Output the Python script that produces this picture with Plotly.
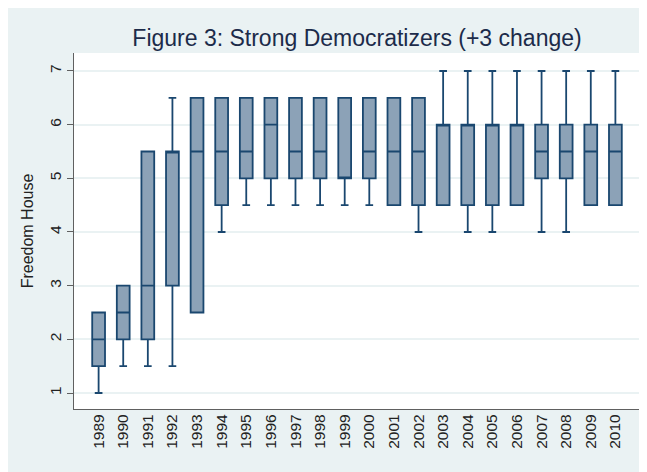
import plotly.graph_objects as go

years = [str(y) for y in range(1989, 2011)]
lower = [1, 1.5, 1.5, 1.5, 2.5, 4, 4.5, 4.5, 4.5, 4.5, 4.5, 4.5, 4.5, 4, 4.5, 4, 4, 4.5, 4, 4, 4.5, 4.5]
q1 = [1.5, 2, 2, 3, 2.5, 4.5, 5, 5, 5, 5, 5, 5, 4.5, 4.5, 4.5, 4.5, 4.5, 4.5, 5, 5, 4.5, 4.5]
median = [2, 2.5, 3, 5.5, 5.5, 5.5, 5.5, 6, 5.5, 5.5, 5, 5.5, 5.5, 5.5, 6, 6, 6, 6, 5.5, 5.5, 5.5, 5.5]
q3 = [2.5, 3, 5.5, 5.5, 6.5, 6.5, 6.5, 6.5, 6.5, 6.5, 6.5, 6.5, 6.5, 6.5, 6, 6, 6, 6, 6, 6, 6, 6]
upper = [2.5, 3, 5.5, 6.5, 6.5, 6.5, 6.5, 6.5, 6.5, 6.5, 6.5, 6.5, 6.5, 6.5, 7, 7, 7, 7, 7, 7, 7, 7]
yticks = [1, 2, 3, 4, 5, 6, 7]

pos = list(range(len(years)))

BG = "#EAF2F3"
NAVY = "#1A476F"
FILL = "#8CA2B7"
FONT = "Liberation Sans, Arial, Helvetica, sans-serif"

fig = go.Figure()
fig.add_trace(go.Box(
    x=pos, q1=q1, median=median, q3=q3,
    lowerfence=lower, upperfence=upper,
    fillcolor=FILL,
    line=dict(color=NAVY, width=1.8),
    width=0.52, whiskerwidth=0.6,
    boxpoints=False, showlegend=False, hoverinfo="skip",
))

W, H = 639, 464
L, R, T, B = 66, 7, 45, 63
pw = W - L - R

fig.update_layout(
    width=W, height=H, autosize=False,
    margin=dict(l=L, r=R, t=T, b=B, pad=0),
    paper_bgcolor=BG, plot_bgcolor="white",
    font=dict(family=FONT, size=15.5, color="#222222"),
    title=dict(
        text="Figure 3: Strong Democratizers (+3 change)",
        font=dict(size=23, color="#1C2B4A", family=FONT),
        x=(L + pw / 2) / W, xanchor="center",
        y=1 - 30 / H, yanchor="middle",
    ),
    xaxis=dict(
        range=[-1, len(years)], tickmode="array", tickvals=pos, ticktext=years,
        tickangle=-90, showgrid=False, zeroline=False,
        showline=True, linecolor="#606060", linewidth=1.2,
        ticks="", ticklabelstandoff=-2, tickfont=dict(size=15.5, color="#222222"),
    ),
    yaxis=dict(
        range=[0.702, 7.335], tickmode="array", tickvals=yticks,
        tickangle=-90, showgrid=True, gridcolor=BG, gridwidth=1.5,
        zeroline=False, showline=True, linecolor="#606060", linewidth=1.2,
        ticks="outside", ticklen=6, tickcolor="#606060", tickwidth=1.2,
        ticklabelstandoff=0,
        tickfont=dict(size=15.5, color="#222222"),
        title=dict(text="Freedom House", font=dict(size=16, color="#222222"), standoff=9),
    ),
)

fig.write_html("out.html", config={"responsive": False})
